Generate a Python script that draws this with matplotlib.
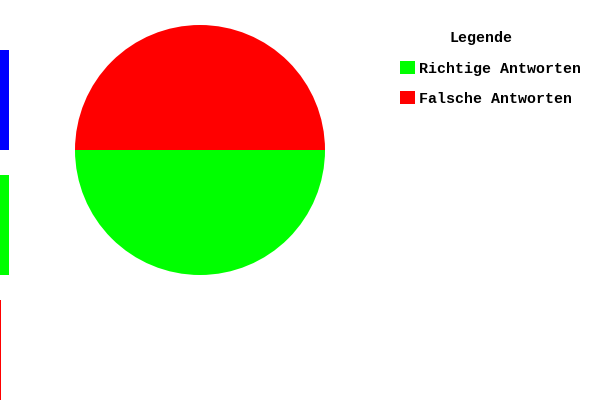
import matplotlib.pyplot as plt
from matplotlib.patches import Patch

# pie data
pie_labels = ['Richtige Antworten', 'Falsche Antworten']
pie_values = [50, 50]
pie_colors = ['#00ff00', '#ff0000']

# left bars (cut off at the edge)
bar_names = ['blau', 'grün', 'rot']
bar_values = [9, 9, 1]
bar_colors = ['#0000ff', '#00ff00', '#ff0000']

fig = plt.figure(figsize=(6, 4), dpi=100)
fig.patch.set_facecolor('white')

# bar strip on the left
axb = fig.add_axes([0, 0, 1, 1])
axb.barh(range(len(bar_values)), bar_values, height=0.8, color=bar_colors)
axb.set_xlim(0, 600)
axb.set_ylim(2.4, -0.8)
axb.axis('off')

# pie
ax = fig.add_axes([75 / 600, 125 / 400, 250 / 600, 250 / 400])
ax.pie(pie_values, colors=pie_colors, startangle=180, counterclock=True,
       radius=1, wedgeprops={'linewidth': 0})
ax.set_xlim(-1, 1)
ax.set_ylim(-1, 1)
ax.set_aspect('auto')
ax.axis('off')

font = {'family': 'Liberation Mono', 'weight': 'bold', 'size': 10.8}
handles = [Patch(facecolor=c, edgecolor='none') for c in pie_colors]
# legend without built-in title; title placed on its own
leg = fig.legend(handles, pie_labels, loc='upper left',
                 bbox_to_anchor=(385 / 600, 1 - 46 / 400),
                 frameon=False, prop=font,
                 handlelength=1.0, handleheight=1.0, handletextpad=0.27,
                 labelspacing=1.0, borderpad=0.5)
fig.text(481 / 600, 1 - 38 / 400, 'Legende', ha='center', va='center',
         **font)

fig.savefig('out.png', dpi=100, facecolor='white')
